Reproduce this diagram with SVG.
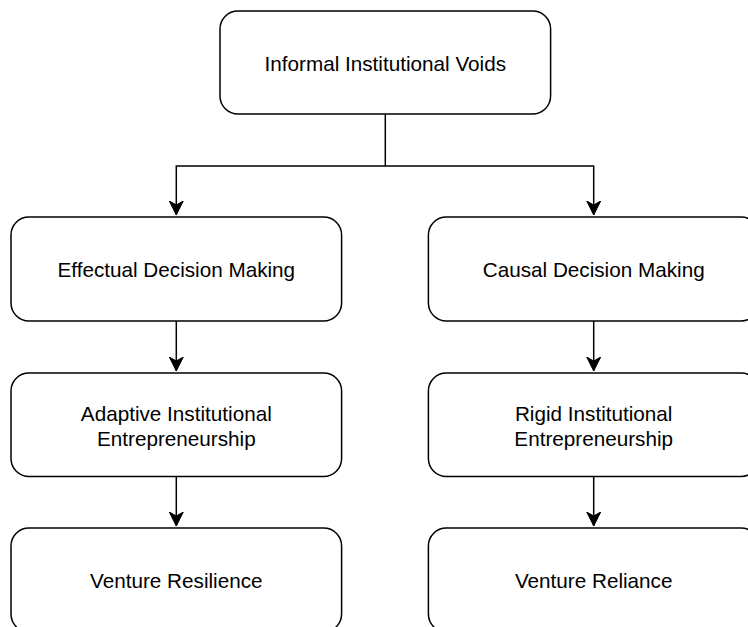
<svg xmlns="http://www.w3.org/2000/svg" width="748" height="627" viewBox="0 0 748 627">
<style>
.box{fill:#fff;stroke:#000;stroke-width:1.5}
.lbl{font-family:"Liberation Sans",Arial,Helvetica,sans-serif;font-size:20.7px;fill:#000;text-anchor:middle}
.edge{fill:none;stroke:#000;stroke-width:1.5}
</style>
<defs>
<marker id="arr" markerUnits="userSpaceOnUse" markerWidth="16" markerHeight="16" refX="14" refY="7.5" orient="auto" viewBox="0 0 16 15">
<path d="M14,7.5 L0,0.5 L4,7.5 L0,14.5 Z" fill="#000" stroke="#000" stroke-width="1"/>
</marker>
</defs>
<rect width="748" height="627" fill="#fff"/>
<g id="connectors">
<path class="edge" d="M385.3,114 V166 H176.3 V215" marker-end="url(#arr)"/>
<path class="edge" d="M385.3,166 H593.7 V215" marker-end="url(#arr)"/>
<path class="edge" d="M176.3,321 V371" marker-end="url(#arr)"/>
<path class="edge" d="M176.3,476.5 V526" marker-end="url(#arr)"/>
<path class="edge" d="M593.7,321 V371" marker-end="url(#arr)"/>
<path class="edge" d="M593.7,476.5 V526" marker-end="url(#arr)"/>
</g>
<g id="n_voids">
<rect class="box" x="220" y="11" width="330.6" height="103" rx="18"/>
<text class="lbl" x="385.3" y="71">Informal Institutional Voids</text>
</g>
<g id="n_effectual">
<rect class="box" x="11" y="217" width="330.6" height="104" rx="18"/>
<text class="lbl" x="176.3" y="277">Effectual Decision Making</text>
</g>
<g id="n_causal">
<rect class="box" x="428.4" y="217" width="330.6" height="104" rx="18"/>
<text class="lbl" x="593.7" y="277">Causal Decision Making</text>
</g>
<g id="n_adaptive">
<rect class="box" x="11" y="373" width="330.6" height="103.5" rx="18"/>
<text class="lbl" x="176.3" y="420.5">Adaptive Institutional</text>
<text class="lbl" x="176.3" y="446">Entrepreneurship</text>
</g>
<g id="n_rigid">
<rect class="box" x="428.4" y="373" width="330.6" height="103.5" rx="18"/>
<text class="lbl" x="593.7" y="420.5">Rigid Institutional</text>
<text class="lbl" x="593.7" y="446">Entrepreneurship</text>
</g>
<g id="n_resilience">
<rect class="box" x="11" y="528" width="330.6" height="104" rx="18"/>
<text class="lbl" x="176.3" y="588.3">Venture Resilience</text>
</g>
<g id="n_reliance">
<rect class="box" x="428.4" y="528" width="330.6" height="104" rx="18"/>
<text class="lbl" x="593.7" y="588.3">Venture Reliance</text>
</g>
</svg>
